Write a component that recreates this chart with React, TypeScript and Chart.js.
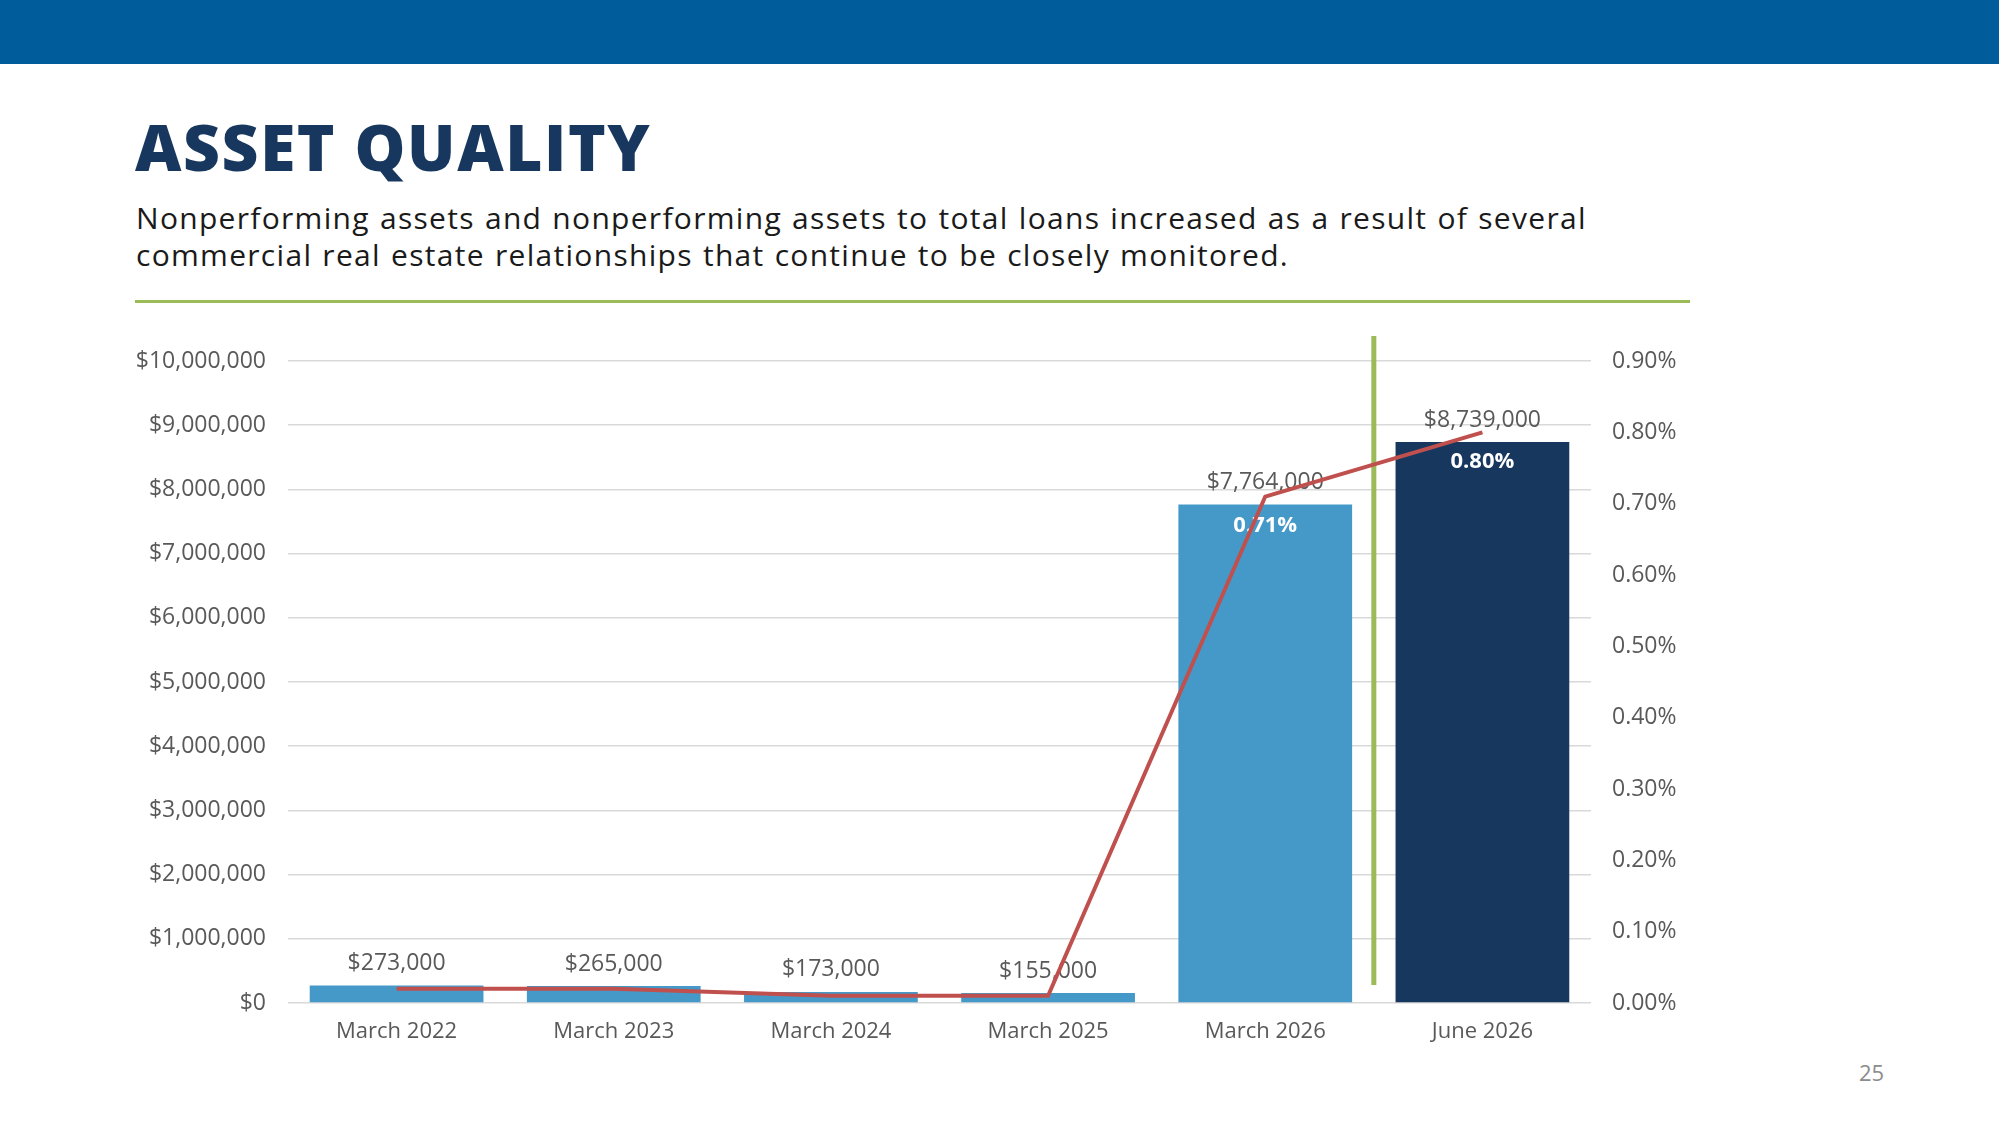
import React, { useEffect, useRef } from "react";
import { Chart, registerables } from "chart.js";

Chart.register(...registerables);

const categories = ["March 2022", "March 2023", "March 2024", "March 2025", "March 2026", "June 2026"];
const npaValues = [273000, 265000, 173000, 155000, 7764000, 8739000];
const npaRatio = [0.02, 0.02, 0.01, 0.01, 0.71, 0.8];
const ratioLabelIndexes = [4, 5];
const barColors = ["#4599C9", "#4599C9", "#4599C9", "#4599C9", "#4599C9", "#17375E"];
const leftMax = 10000000;
const leftStep = 1000000;
const rightMax = 0.9;
const rightStep = 0.1;
const dividerFrom = 280000;
const dividerTo = 10390000;

const FONT = "'Open Sans', 'DejaVu Sans', sans-serif";

const fmtMoney = (v: number) => "$" + Math.round(v).toLocaleString("en-US");

const labelsPlugin = {
  id: "customLabels",
  beforeDatasetsDraw(chart: any) {
    const ctx = chart.ctx;
    const x = chart.scales.x;
    const y = chart.scales.y;
    const xPos = (x.getPixelForValue(4) + x.getPixelForValue(5)) / 2;
    ctx.save();
    ctx.strokeStyle = "#9BBB59";
    ctx.lineWidth = 5;
    ctx.beginPath();
    ctx.moveTo(xPos, y.getPixelForValue(dividerTo));
    ctx.lineTo(xPos, y.getPixelForValue(dividerFrom));
    ctx.stroke();
    ctx.restore();
  },
  afterDatasetDraw(chart: any, args: any) {
    if (args.index !== 0) return;
    const ctx = chart.ctx;
    const barMeta = chart.getDatasetMeta(0);
    const lineMeta = chart.getDatasetMeta(1);
    ctx.save();
    ctx.textAlign = "center";
    ctx.textBaseline = "middle";
    ctx.font = `23px ${FONT}`;
    ctx.fillStyle = "#595959";
    barMeta.data.forEach((el: any, i: number) => {
      ctx.fillText(fmtMoney(npaValues[i]), el.x, el.y - 22);
    });
    ctx.font = `bold 22px ${FONT}`;
    ctx.fillStyle = "#FFFFFF";
    ratioLabelIndexes.forEach((i) => {
      const el = lineMeta.data[i];
      ctx.fillText(npaRatio[i].toFixed(2) + "%", el.x, el.y + 29);
    });
    ctx.restore();
  },
};

function ChartCanvas() {
  const ref = useRef<HTMLCanvasElement | null>(null);
  useEffect(() => {
    if (!ref.current) return;
    Chart.defaults.font.family = FONT;
    const chart = new Chart(ref.current, {
      type: "bar",
      data: {
        labels: categories,
        datasets: [
          {
            type: "bar",
            data: npaValues,
            backgroundColor: barColors,
            barPercentage: 0.8,
            categoryPercentage: 1,
            yAxisID: "y",
            order: 2,
          } as any,
          {
            type: "line",
            data: npaRatio,
            borderColor: "#C0504D",
            borderWidth: 4,
            pointRadius: 0,
            tension: 0,
            yAxisID: "y1",
            order: 1,
          } as any,
        ],
      },
      options: {
        animation: false,
        responsive: false,
        devicePixelRatio: 1,
        layout: { padding: { top: 41, left: 0, right: 0, bottom: 0 } },
        plugins: { legend: { display: false }, tooltip: { enabled: false } },
        scales: {
          x: {
            grid: { display: false },
            border: { display: false },
            ticks: { color: "#595959", font: { size: 22 }, padding: 8, maxRotation: 0 },
            afterFit: (s: any) => {
              s.height = 77;
            },
          },
          y: {
            position: "left",
            min: 0,
            max: leftMax,
            grid: { color: "#D9D9D9", lineWidth: 1.5, drawTicks: false },
            border: { display: false },
            ticks: {
              stepSize: leftStep,
              color: "#595959",
              font: { size: 23 },
              padding: 22,
              callback: (v: any) => fmtMoney(Number(v)),
            },
            afterFit: (s: any) => {
              s.width = 188;
            },
          },
          y1: {
            position: "right",
            min: 0,
            max: rightMax,
            grid: { display: false, drawTicks: false },
            border: { display: false },
            ticks: {
              stepSize: rightStep,
              color: "#595959",
              font: { size: 23 },
              padding: 21,
              callback: (v: any) => Number(v).toFixed(2) + "%",
            },
            afterFit: (s: any) => {
              s.width = 159;
            },
          },
        },
      } as any,
      plugins: [labelsPlugin],
    });
    return () => chart.destroy();
  }, []);
  return (
    <canvas
      ref={ref}
      width={1650}
      height={760}
      style={{ position: "absolute", left: 100, top: 320, width: 1650, height: 760 }}
    />
  );
}

export default function App() {
  return (
    <div
      style={{
        position: "absolute",
        left: 0,
        top: 0,
        width: 1999,
        height: 1125,
        background: "#FFFFFF",
        overflow: "hidden",
        fontFamily: FONT,
      }}
    >
      <div style={{ position: "absolute", left: 0, top: 0, width: 1999, height: 64, background: "#005C9B" }} />
      <div
        style={{
          position: "absolute",
          left: 135,
          top: 115,
          fontSize: 64,
          lineHeight: "64px",
          fontWeight: 800,
          color: "#17375E",
          letterSpacing: 1.6,
          whiteSpace: "nowrap",
        }}
      >
        ASSET QUALITY
      </div>
      <div
        style={{
          position: "absolute",
          left: 136,
          top: 199,
          fontSize: 30,
          lineHeight: "37px",
          color: "#1A1A1A",
          letterSpacing: 1.3,
          wordSpacing: 1,
          whiteSpace: "nowrap",
        }}
      >
        Nonperforming assets and nonperforming assets to total loans increased as a result of several
        <br />
        commercial real estate relationships that continue to be closely monitored.
      </div>
      <div style={{ position: "absolute", left: 135, top: 300, width: 1555, height: 3, background: "#9BBB59" }} />
      <ChartCanvas />
      <div
        style={{
          position: "absolute",
          left: 1859,
          top: 1061,
          fontSize: 22,
          lineHeight: "22px",
          color: "#8C8C8C",
        }}
      >
        25
      </div>
    </div>
  );
}
